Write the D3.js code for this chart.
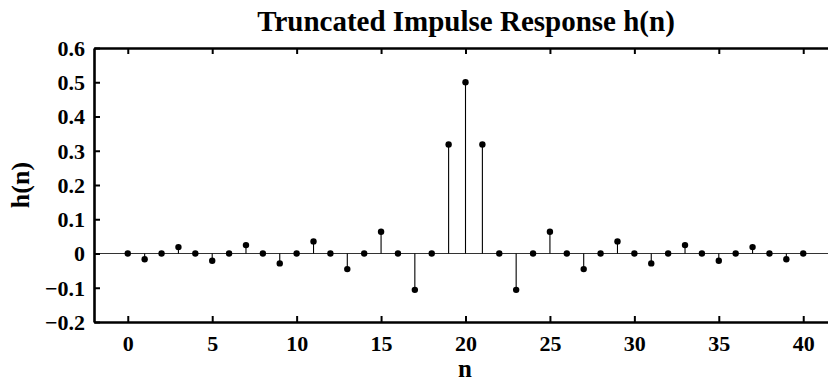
<!DOCTYPE html>
<html><head><meta charset="utf-8">
<script src="https://cdn.jsdelivr.net/npm/d3@7"></script>
<style>body{margin:0;background:#fff}svg{display:block}</style>
</head><body>
<script>
const nValues = d3.range(0, 41);
const hValues = [0, -0.0168, 0, 0.0187, 0, -0.0212, 0, 0.0245, 0, -0.0289, 0, 0.0354, 0, -0.0455, 0, 0.0637, 0, -0.1061, 0, 0.3183, 0.5, 0.3183, 0, -0.1061, 0, 0.0637, 0, -0.0455, 0, 0.0354, 0, -0.0289, 0, 0.0245, 0, -0.0212, 0, 0.0187, 0, -0.0168, 0];
const xTicks = [0, 5, 10, 15, 20, 25, 30, 35, 40];
const yTicks = [-0.2, -0.1, 0, 0.1, 0.2, 0.3, 0.4, 0.5, 0.6];
const titleText = "Truncated Impulse Response h(n)";
const xLabel = "n", yLabel = "h(n)";

const W = 828, H = 383;
const m = {l: 94, t: 48, r: -9, b: 61};
const svg = d3.select("body").append("svg").attr("width", W).attr("height", H);
const x = d3.scaleLinear().domain([-2, 42]).range([m.l, W - m.r]);
const y = d3.scaleLinear().domain([-0.2, 0.6]).range([H - m.b, m.t]);
const font = "'Liberation Serif', 'Times New Roman', serif";
const fmt = v => v === 0 ? "0" : d3.format(".1f")(v).replace("-", "\u2212");

// zero line
svg.append("line").attr("x1", x(-2)).attr("x2", W).attr("y1", y(0)).attr("y2", y(0))
  .attr("stroke", "#333").attr("stroke-width", 1.2);

// stems
svg.append("g").selectAll("line").data(nValues).join("line")
  .attr("x1", (d) => x(d)).attr("x2", (d) => x(d))
  .attr("y1", y(0)).attr("y2", (d, i) => y(hValues[i]))
  .attr("stroke", "#000").attr("stroke-width", 1.1);
svg.append("g").selectAll("circle").data(nValues).join("circle")
  .attr("cx", (d) => x(d)).attr("cy", (d, i) => y(hValues[i])).attr("r", 3.2).attr("fill", "#000");

// axes
const axB = svg.append("g").attr("transform", `translate(0,${y(-0.2)})`)
  .call(d3.axisBottom(x).tickValues(xTicks).tickSizeInner(-6).tickSizeOuter(0).tickPadding(13));
const axT = svg.append("g").attr("transform", `translate(0,${y(0.6)})`)
  .call(d3.axisTop(x).tickValues(xTicks).tickSizeInner(-6).tickSizeOuter(0).tickFormat(""));
const axL = svg.append("g").attr("transform", `translate(${x(-2)},0)`)
  .call(d3.axisLeft(y).tickValues(yTicks).tickSizeInner(-6).tickSizeOuter(0).tickPadding(9).tickFormat(fmt));
[axB, axT, axL].forEach(a => {
  a.select(".domain").attr("stroke", "#000").attr("stroke-width", 2.6);
  a.selectAll(".tick line").attr("stroke", "#000").attr("stroke-width", 2);
  a.selectAll("text").attr("font-family", font).attr("font-weight", "bold").attr("font-size", 22).attr("fill", "#000");
});
axB.selectAll("text").attr("dy", "0.71em");
axL.selectAll("text").attr("dy", "0.34em");

svg.append("text").attr("x", 466).attr("y", 31).attr("text-anchor", "middle")
  .attr("font-family", font).attr("font-weight", "bold").attr("font-size", 29).text(titleText);
svg.append("text").attr("x", 465).attr("y", 377).attr("text-anchor", "middle")
  .attr("font-family", font).attr("font-weight", "bold").attr("font-size", 25).text(xLabel);
svg.append("text").attr("transform", `translate(29,185) rotate(-90)`).attr("text-anchor", "middle")
  .attr("font-family", font).attr("font-weight", "bold").attr("font-size", 26).text(yLabel);
</script>
</body></html>
